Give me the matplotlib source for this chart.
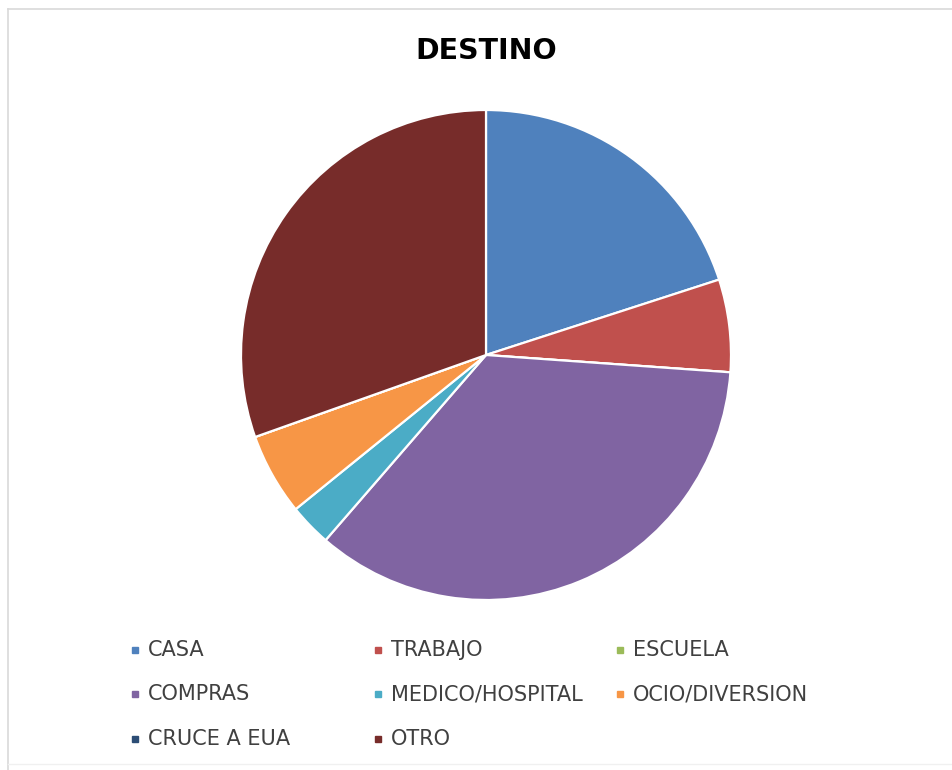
import numpy as np
import matplotlib
matplotlib.use("Agg")
import matplotlib.pyplot as plt
from matplotlib.lines import Line2D

# Data (percent of trips)
categories = ['CASA', 'TRABAJO', 'ESCUELA', 'COMPRAS', 'MEDICO/HOSPITAL',
              'OCIO/DIVERSION', 'CRUCE A EUA', 'OTRO']
values = [20.0, 6.1, 0.0, 35.2, 2.8, 5.4, 0.0, 30.4]
colors = ['#4F81BD', '#C0504D', '#9BBB59', '#8064A2', '#4BACC6',
          '#F79646', '#2C4D75', '#772C2A']

W, H = 953, 770
fig = plt.figure(figsize=(W / 100, H / 100), dpi=100)

# pie box: centre (486, 355), radius 245 px
ax = fig.add_axes([241 / W, 1 - 600 / H, 490 / W, 490 / H])
ax.pie(values, colors=colors, startangle=90, counterclock=False, radius=1,
       wedgeprops=dict(edgecolor='white', linewidth=1.6))
ax.set_xlim(-1.0, 1.0)
ax.set_ylim(-1.0, 1.0)
ax.set_axis_off()

fig.text(486 / W, 1 - 51 / H, 'DESTINO', ha='center', va='center',
         fontsize=20.5, fontweight='bold', color='black')

# legend, three per row
col_x = [135, 378, 620]
row_y = [650, 694, 739]
for i, (name, c) in enumerate(zip(categories, colors)):
    r, k = divmod(i, 3)
    x = col_x[k] / W
    y = 1 - row_y[r] / H
    fig.add_artist(Line2D([x], [y], marker='s', markersize=4.5, color=c,
                          linestyle='none', transform=fig.transFigure))
    fig.text(x + 13 / W, y, name, ha='left', va='center', fontsize=15,
             color='#404040')

# faint chart frame
frame = '#D9D9D9'
fig.add_artist(Line2D([8.5 / W, 8.5 / W], [0, 1 - 9 / H], color=frame,
                      linewidth=1.2, transform=fig.transFigure))
fig.add_artist(Line2D([8.5 / W, 1], [1 - 9 / H, 1 - 9 / H], color=frame,
                      linewidth=1.2, transform=fig.transFigure))
fig.add_artist(Line2D([8.5 / W, 1], [1 - 764 / H, 1 - 764 / H], color='#F0F0F0',
                      linewidth=1.0, transform=fig.transFigure))

fig.savefig('out.png', dpi=100, facecolor='white')
